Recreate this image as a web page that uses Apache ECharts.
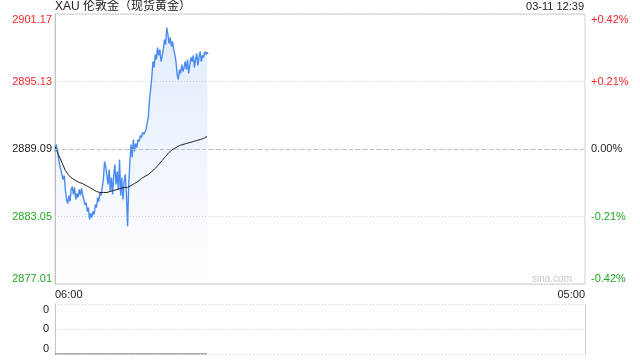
<!DOCTYPE html>
<html>
<head>
<meta charset="utf-8">
<script src="https://cdn.jsdelivr.net/npm/echarts@6/dist/echarts.min.js"></script>
<style>
html,body{margin:0;padding:0;background:#fff;}
#c{width:640px;height:360px;}
</style>
</head>
<body>
<div id="c"></div>
<script>
// ---- data ----
const titleText = 'XAU 伦敦金（现货黄金）';
const stampText = '03-11 12:39';
const prevClose = 2889.09;
const yMin = 2877.01;
const yMax = 2901.17;
const yStep = 6.04;
const dayStart = '06:00';
const dayEnd = '05:00';
const dayMinutes = 1380;
const priceStepMin = 3;   // minutes between price samples
const avgStepMin = 9;     // minutes between average samples
const prices = [
2888.87,2889.49,2889.05,2888.33,2887.70,2887.26,2887.43,2886.36,2886.72,2885.47,
2884.57,2884.21,2884.93,2884.39,2885.47,2885.73,2885.02,2885.65,2884.57,2885.11,
2884.75,2885.47,2884.93,2885.56,2885.02,2884.57,2884.12,2884.30,2883.50,2883.85,
2882.78,2883.32,2882.96,2883.50,2883.23,2884.12,2883.85,2884.75,2884.39,2885.20,
2884.93,2885.65,2886.36,2887.97,2887.52,2886.81,2885.91,2887.26,2885.29,2886.54,
2885.02,2886.72,2887.70,2885.91,2887.08,2885.47,2888.15,2884.93,2886.54,2884.57,
2886.18,2886.81,2885.02,2882.16,2885.91,2887.97,2889.49,2888.33,2889.94,2888.87,
2889.58,2889.22,2889.94,2889.76,2890.30,2890.12,2890.57,2890.39,2890.30,2890.84,
2891.01,2891.91,2893.52,2894.41,2895.49,2896.92,2896.38,2897.55,2897.10,2898.17,
2897.46,2897.99,2896.92,2897.37,2897.99,2898.89,2898.44,2899.96,2899.34,2898.53,
2899.07,2898.26,2898.71,2897.99,2897.55,2896.92,2895.76,2895.31,2896.20,2895.85,
2896.65,2896.03,2896.38,2896.92,2896.20,2897.10,2895.85,2896.56,2897.28,2896.92,
2897.46,2896.38,2897.10,2897.64,2896.56,2897.28,2897.81,2896.92,2897.46,2897.28,
2897.81,2897.55,2897.73,2897.64
];
const avgPrices = [
2889.31,2888.60,2887.88,2887.17,2886.72,2886.45,2886.27,2886.09,2886.00,2885.82,
2885.65,2885.47,2885.29,2885.20,2885.20,2885.20,2885.29,2885.38,2885.47,2885.56,
2885.65,2885.65,2885.82,2886.00,2886.18,2886.45,2886.63,2886.81,2887.08,2887.35,
2887.70,2888.06,2888.42,2888.78,2889.05,2889.22,2889.40,2889.49,2889.58,2889.67,
2889.76,2889.85,2889.94,2890.03,2890.21
];
const volumes = [
0,0,0,0,0,0,0,0,0,0,0,0,0,0,0,0,0,0,0,0,0,0,0,0,0,0,0,0,0,0,0,0,0,0,0,0,0,0,0,0,0,0,0,0,0
];
const volLabels = ['0','0','0'];

// ---- chart ----
const RED = '#f02a2a', GREEN = '#22a822', BLACK = '#222';
function colorKey(v){
  if (v > prevClose + 0.005) return 'r';
  if (v < prevClose - 0.005) return 'g';
  return 'k';
}
const rich = {
  r:{color:RED,fontSize:11,fontFamily:'Liberation Sans, Arial, sans-serif'},
  g:{color:GREEN,fontSize:11,fontFamily:'Liberation Sans, Arial, sans-serif'},
  k:{color:BLACK,fontSize:11,fontFamily:'Liberation Sans, Arial, sans-serif'}
};
const priceData = prices.map((p,i)=>[i*priceStepMin,p]);
const avgData = avgPrices.map((p,i)=>[i*avgStepMin,p]);
const volData = volumes.map((v,i)=>[i*avgStepMin,v]);

const chart = echarts.init(document.getElementById('c'), null, {renderer:'canvas'});
chart.setOption({
  animation:false,
  backgroundColor:'#fff',
  textStyle:{fontFamily:'Liberation Sans, Arial, sans-serif'},
  title:[
    {text:titleText,left:55,top:1,padding:0,textStyle:{fontSize:12,fontWeight:'normal',color:'#222',fontFamily:'Liberation Sans, "Noto Sans CJK SC", sans-serif'}},
    {text:stampText,right:56,top:1,padding:0,textStyle:{fontSize:11,fontWeight:'normal',color:'#222'}}
  ],
  graphic:[
    {type:'text',right:68,top:274,style:{text:'sina.com',fill:'#c8c8c8',fontSize:10,fontFamily:'Liberation Sans, Arial, sans-serif'}}
  ],
  grid:[
    {left:55,right:55,top:14,height:270,show:true,borderColor:'#cfcfcf',borderWidth:1,backgroundColor:'transparent'},
    {left:55,right:55,top:304,height:50,show:false}
  ],
  xAxis:[
    {type:'value',gridIndex:0,min:0,max:dayMinutes,interval:dayMinutes,
      axisLine:{show:false},axisTick:{show:false},splitLine:{show:false},
      axisLabel:{show:true,margin:5,fontSize:11,color:'#222',
        alignMinLabel:'left',alignMaxLabel:'right',
        formatter:(v)=> v===0?dayStart:dayEnd}},
    {type:'value',gridIndex:1,min:0,max:dayMinutes,show:true,
      axisLine:{show:false},axisTick:{show:false},splitLine:{show:false},axisLabel:{show:false}}
  ],
  yAxis:[
    {type:'value',gridIndex:0,min:yMin,max:yMax,interval:yStep,position:'left',
      axisLine:{show:true,lineStyle:{color:'#c4c4c4'}},axisTick:{show:false},
      splitLine:{show:true,lineStyle:{color:'#cfcfcf',type:[1,2]}},
      axisLabel:{margin:3,rich:rich,
        verticalAlignMinLabel:'bottom',verticalAlignMaxLabel:'top',
        formatter:(v)=>'{'+colorKey(v)+'|'+v.toFixed(2)+'}'}},
    {type:'value',gridIndex:0,min:yMin,max:yMax,interval:yStep,position:'right',
      axisLine:{show:false},axisTick:{show:false},splitLine:{show:false},
      axisLabel:{margin:6,rich:rich,
        verticalAlignMinLabel:'bottom',verticalAlignMaxLabel:'top',
        formatter:(v)=>{
          const pct=(v-prevClose)/prevClose*100;
          const s=(pct>0.005?'+':'')+pct.toFixed(2)+'%';
          return '{'+colorKey(v)+'|'+s+'}';
        }}},
    {type:'value',gridIndex:1,min:0,max:1,interval:0.5,position:'left',
      axisLine:{show:true,lineStyle:{color:'#c4c4c4'}},axisTick:{show:false},
      splitLine:{show:true,lineStyle:{color:'#cfcfcf',type:[1,2]}},
      axisLabel:{margin:6,fontSize:11,color:'#222',
        verticalAlignMinLabel:'bottom',verticalAlignMaxLabel:'top',
        formatter:(v,i)=>volLabels[i]}},
    {type:'value',gridIndex:1,min:0,max:1,position:'right',
      axisLine:{show:true,lineStyle:{color:'#cfcfcf'}},axisTick:{show:false},
      splitLine:{show:false},axisLabel:{show:false}}
  ],
  series:[
    {type:'line',xAxisIndex:0,yAxisIndex:0,data:priceData,showSymbol:false,
      lineStyle:{color:'#4a8bf0',width:1.4},
      areaStyle:{color:new echarts.graphic.LinearGradient(0,0,0,1,[
        {offset:0,color:'rgba(74,139,240,0.24)'},
        {offset:1,color:'rgba(74,139,240,0.0)'}])},
      markLine:{silent:true,symbol:'none',label:{show:false},
        lineStyle:{color:'#bdbdbd',type:[4,3],width:1},
        data:[{yAxis:prevClose}]},
      z:3},
    {type:'line',xAxisIndex:0,yAxisIndex:0,data:avgData,showSymbol:false,
      lineStyle:{color:'#222',width:1},z:4},
    {type:'line',xAxisIndex:1,yAxisIndex:2,data:volData,showSymbol:false,
      lineStyle:{color:'#555',width:1},z:4}
  ]
});
</script>
</body>
</html>
